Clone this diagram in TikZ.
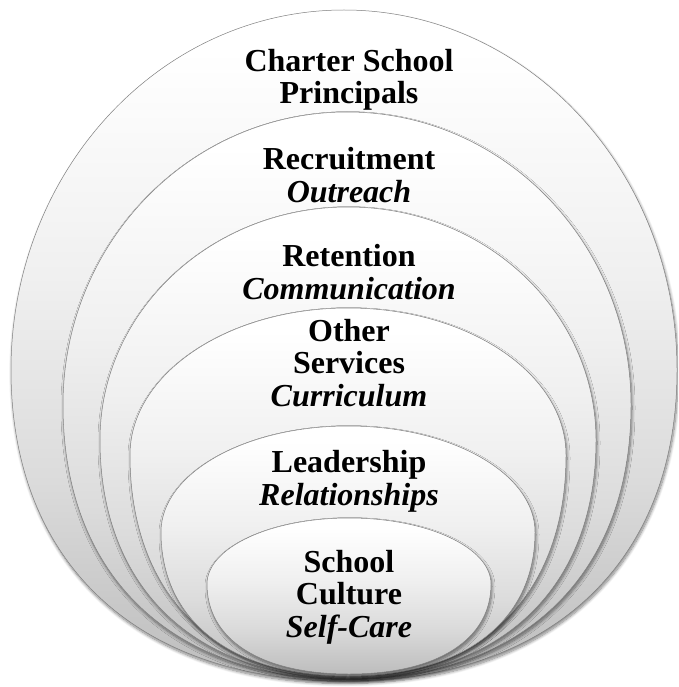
\documentclass[tikz,border=0pt]{standalone}
\usepackage{fontspec}
\setmainfont{Liberation Serif}
\usetikzlibrary{shadows.blur}

% vertical shading: grey toward the lower rim, fading to white at the top
\pgfdeclareverticalshading{ringshade}{100bp}{%
  color(0bp)=(black!26); color(25bp)=(black!26); color(40bp)=(black!14);
  color(55bp)=(black!6); color(72bp)=(white); color(100bp)=(white)}

\tikzset{
  % egg-shaped ring: {centre x}{top}{widest y}{half width}{bottom}
  ringpath/.style n args={5}{insert path={
    (#1-#4,#3)
      .. controls (#1-#4,{#3-0.5523*(#3-#2)}) and ({#1-0.5523*#4},#2) .. (#1,#2)
      .. controls ({#1+0.5523*#4},#2) and (#1+#4,{#3-0.5523*(#3-#2)}) .. (#1+#4,#3)
      .. controls (#1+#4,{#3+0.62*(#5-#3)}) and ({#1+0.62*#4},#5) .. (#1,#5)
      .. controls ({#1-0.62*#4},#5) and (#1-#4,{#3+0.62*(#5-#3)}) .. cycle}},
  ring/.style={shading=ringshade, draw=black!50, line width=0.5pt,
    blur shadow={shadow xshift=1pt, shadow yshift=-2.5pt,
                 shadow blur steps=10, shadow blur radius=3pt, shadow opacity=50}},
  label/.style={font=\fontsize{32}{32.5}\selectfont\bfseries, align=center,
                inner sep=0pt, anchor=base}
}

\begin{document}
\begin{tikzpicture}[x=1pt,y=-1pt]
  \useasboundingbox (0,0) rectangle (678,687);
  \begin{scope}
    \clip (0,0) rectangle (678,687);
    % rings, outermost first
    \path[ring, ringpath={344}{10}{370}{333}{681}];
    \path[ring, ringpath={347}{112}{405}{284}{679}];
    \path[ring, ringpath={348}{207}{440}{248}{678}];
    \path[ring, ringpath={348}{308}{455}{218}{677}];
    \path[ring, ringpath={348}{426}{532}{187}{676}];
    \path[ring, ringpath={349}{518}{584}{142}{674}];
  \end{scope}

  % ring labels (positioned by the baseline of their last line)
  \node[label] (principals) at (349,104) {Charter School\\Principals};
  \node[label] (recruit)    at (349,202) {Recruitment\\\textit{Outreach}};
  \node[label] (retain)     at (349,299) {Retention\\\textit{Communication}};
  \node[label] (services)   at (349,406) {Other\\Services\\\textit{Curriculum}};
  \node[label] (lead)       at (349,505) {Leadership\\\textit{Relationships}};
  \node[label] (culture)    at (349,637) {School\\Culture\\\textit{Self-Care}};
\end{tikzpicture}
\end{document}
